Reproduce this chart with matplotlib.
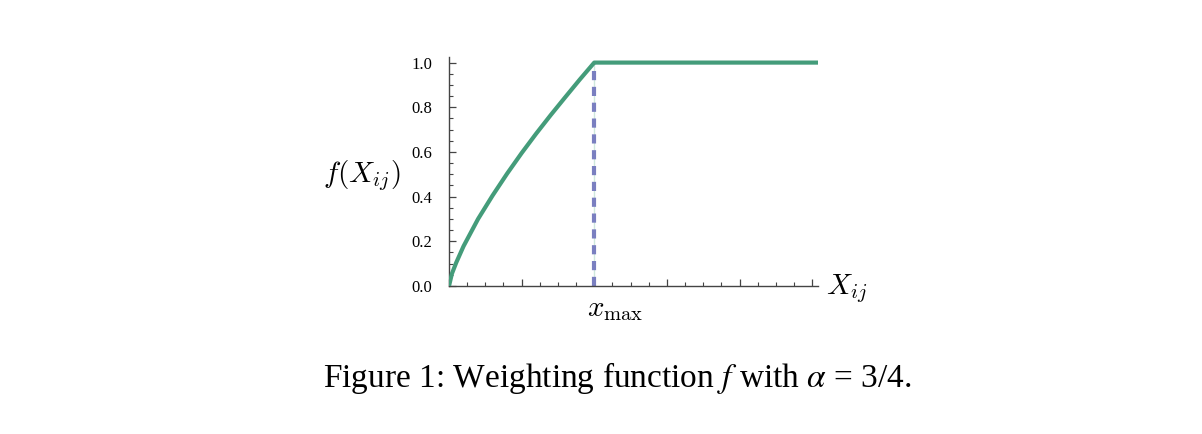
import matplotlib.pyplot as plt
from matplotlib.ticker import MultipleLocator

# values (x in units of x_max)
x_vals = [0, 0.02, 0.05, 0.1, 0.2, 0.3, 0.4, 0.5, 0.6, 0.7, 0.8, 0.9, 1.0, 2.55]
f_vals = [0, 0.055, 0.105, 0.178, 0.30, 0.405, 0.503, 0.595, 0.682, 0.765, 0.845, 0.924, 1.0, 1.0]
x_max = 1.0

GREEN = "#449c7a"
BLUE = "#7a7fc0"
SPINE = "#444444"

plt.rcParams['font.family'] = ['Liberation Serif', 'DejaVu Serif']

fig = plt.figure(figsize=(12.02, 4.34), dpi=100)
ax = fig.add_axes([449 / 1202, 148 / 434, 369 / 1202, 229 / 434])

# thin pale line under the dashed marker
ax.plot([x_max, x_max], [0, 1], color="#cfe8dc", lw=1, zorder=1)
ax.plot([x_max, x_max], [0, 1], color=BLUE, lw=3, ls=(0, (2.2, 1.6)), zorder=2)
ax.plot(x_vals, f_vals, color=GREEN, lw=3, solid_capstyle='butt', zorder=3)

ax.set_xlim(0, 2.54)
ax.set_ylim(0, 1.025)

for side in ['top', 'right']:
    ax.spines[side].set_visible(False)
for side in ['left', 'bottom']:
    ax.spines[side].set_color(SPINE)
    ax.spines[side].set_linewidth(1.0)

ax.xaxis.set_major_locator(MultipleLocator(0.5))
ax.xaxis.set_minor_locator(MultipleLocator(0.125))
ax.yaxis.set_major_locator(MultipleLocator(0.2))
ax.yaxis.set_minor_locator(MultipleLocator(0.05))
ax.set_yticks([0, 0.2, 0.4, 0.6, 0.8, 1.0])
ax.set_yticklabels(["0.0", "0.2", "0.4", "0.6", "0.8", "1.0"])
ax.set_xticklabels([])

ax.tick_params(which='major', direction='in', length=5, width=0.9, color=SPINE,
               labelsize=12, pad=12)
ax.tick_params(which='minor', direction='in', length=3, width=0.8, color=SPINE)

fig.text(362 / 1202, 1 - 176 / 434, r"$f(X_{ij})$", ha='center', va='center',
         fontsize=21, math_fontfamily='cm')
fig.text(826 / 1202, 1 - 289 / 434, r"$X_{ij}$", ha='left', va='center',
         fontsize=21, math_fontfamily='cm')
fig.text(587 / 1202, 1 - 310 / 434, r"$x_{\mathrm{max}}$", ha='left', va='center',
         fontsize=21, math_fontfamily='cm')

fig.text(617 / 1202, 1 - 378 / 434, r"Figure 1: Weighting function $f$ with $\alpha$ = 3/4.",
         ha='center', va='center', fontsize=24, math_fontfamily='stix')

fig.savefig("out.png", dpi=100)
